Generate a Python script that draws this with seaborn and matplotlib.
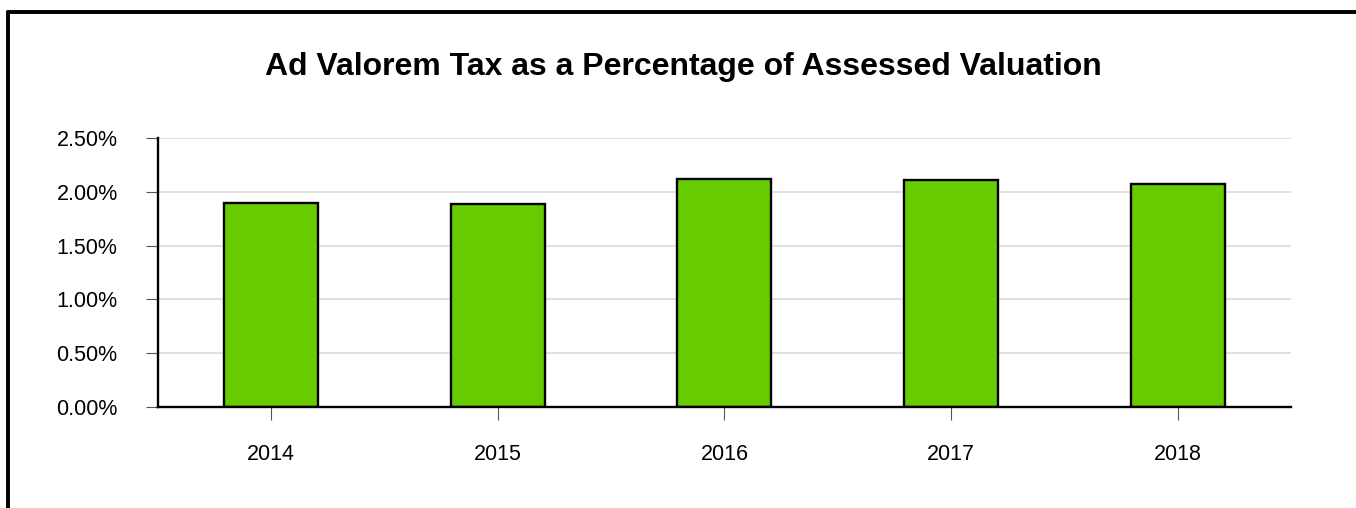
import matplotlib
matplotlib.use("Agg")
import matplotlib.pyplot as plt
import seaborn as sns
import pandas as pd
from matplotlib.lines import Line2D
from matplotlib.ticker import FuncFormatter

# Ad valorem tax as a percentage of assessed valuation
years = ['2014', '2015', '2016', '2017', '2018']
tax_pct = [1.90, 1.89, 2.12, 2.11, 2.07]
y_ticks = [0.0, 0.5, 1.0, 1.5, 2.0, 2.5]

df = pd.DataFrame({'Year': years, 'Tax': tax_pct})

sns.set_style('white')
plt.rcParams['font.family'] = ['Liberation Sans', 'DejaVu Sans']
plt.rcParams['text.color'] = 'black'
plt.rcParams['xtick.labelcolor'] = 'black'
plt.rcParams['ytick.labelcolor'] = 'black'

fig = plt.figure(figsize=(13.56, 5.08), dpi=100)
ax = fig.add_axes([0.1165, 0.199, 0.8355, 0.529])

sns.barplot(data=df, x='Year', y='Tax', color='#66CC00', saturation=1,
            width=0.415, edgecolor='black', linewidth=1.7, ax=ax, zorder=3)

ax.set_xlim(-0.5, 4.5)
ax.set_ylim(0, 2.5)
ax.set_yticks(y_ticks)
ax.yaxis.set_major_formatter(FuncFormatter(lambda v, p: f'{v:.2f}%'))
ax.grid(axis='y', color='#dddddd', linewidth=1.3, zorder=0)
ax.set_xlabel('')
ax.set_ylabel('')

for s in ['top', 'right']:
    ax.spines[s].set_visible(False)
for s in ['left', 'bottom']:
    ax.spines[s].set_color('black')
    ax.spines[s].set_linewidth(1.7)
    ax.spines[s].set_zorder(4)

ax.tick_params(axis='y', left=True, length=9, width=0.8, color='#555555',
               labelsize=15.5, pad=20)
ax.tick_params(axis='x', bottom=True, length=9, width=0.8, color='#555555',
               labelsize=15.5, pad=18)

fig.text(0.504, 0.868, 'Ad Valorem Tax as a Percentage of Assessed Valuation',
         ha='center', va='center', fontsize=23, fontweight='bold', color='black')

# frame around the chart (left and top edges)
fig.add_artist(Line2D([0.006, 0.006], [0.0, 0.976], transform=fig.transFigure,
                      color='black', linewidth=2.8))
fig.add_artist(Line2D([0.006, 1.0], [0.976, 0.976], transform=fig.transFigure,
                      color='black', linewidth=2.8))

fig.savefig('out.png', dpi=100)
